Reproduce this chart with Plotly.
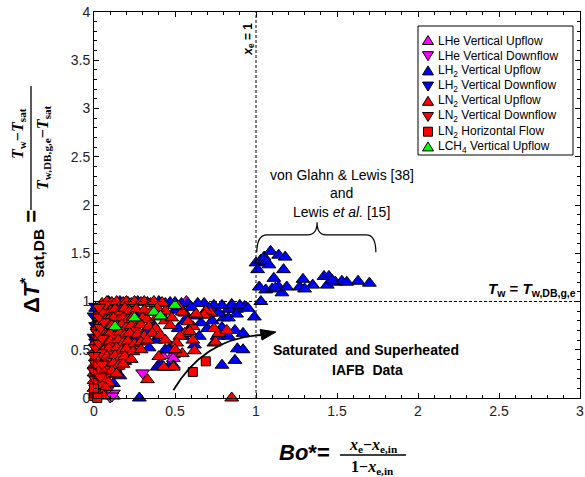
import plotly.graph_objects as go

# ---------------- data ----------------
lhe_up_x = [0.49, 0.49, 0.47, 0.42, 0.57, 0.12]
lhe_up_y = [0.45, 0.41, 0.50, 0.44, 1.00, 0.02]

lhe_dn_x = [0.10, 0.12, 0.08, 0.11, 0.15, 0.13, 0.30]
lhe_dn_y = [0.01, 0.05, 0.08, 0.02, 0.30, 1.00, 0.26]

lh2_up_x = [1.00, 1.03, 1.05, 1.09, 1.06, 1.14, 1.18, 1.01, 1.17, 1.11, 1.02, 1.06, 1.10, 1.14, 1.16,
            1.19, 1.27, 1.29, 1.35, 1.42, 1.45, 1.44, 1.49, 1.53, 1.56, 1.63, 1.70, 1.03, 0.99, 1.08,
            1.12, 1.30, 1.47,
            0.93, 0.88, 0.83, 0.85, 0.79, 0.75, 0.74, 0.68, 0.64, 0.58, 0.54, 0.50, 0.47, 0.69, 0.67,
            0.80, 0.70, 0.65, 0.74, 0.83, 0.88, 0.87, 0.885, 0.92, 0.87, 0.79, 0.92, 0.83, 0.76, 0.79,
            0.73, 0.66, 0.60, 0.55, 0.48, 0.44, 0.40, 0.46, 0.28, 0.62, 0.56, 0.50, 0.60, 0.71, 0.77,
            0.90, 0.95, 0.62, 0.56, 0.52,
            0.01, 0.04, 0.09, 0.16, 0.21, 0.27, 0.33, 0.40, 0.44, 0.26, 0.30, 0.24, 0.39, 0.42, 0.08,
            0.13, 0.16, 0.49, 0.46, 0.02, 0.03, 0.06, 0.11, 0.18, 0.22, 0.36, 0.38, 0.12, 0.07, 0.19,
            0.34, 0.28, 0.14, 0.32, 0.41]
lh2_up_y = [1.40, 1.43, 1.46, 1.52, 1.41, 1.48, 1.46, 1.33, 1.33, 1.24, 1.15, 1.12, 1.13, 1.15, 1.09,
            1.15, 1.15, 1.23, 1.17, 1.26, 1.26, 1.17, 1.20, 1.21, 1.20, 1.21, 1.19, 1.00, 0.84, 1.38,
            1.14, 1.13, 1.22,
            0.95, 0.92, 0.92, 0.97, 0.96, 0.90, 0.96, 0.98, 0.98, 0.98, 0.98, 0.99, 0.99, 0.90, 0.86,
            0.83, 0.72, 0.64, 0.57, 0.83, 0.87, 0.70, 0.51, 0.50, 0.39, 0.34, 0.67, 0.64, 0.64, 0.73,
            0.80, 0.78, 0.74, 0.64, 0.53, 0.50, 0.34, 0.32, 0.00, 0.85, 0.88, 0.91, 0.94, 0.93, 0.88,
            0.96, 0.93, 0.55, 0.80, 0.72,
            0.93, 0.86, 1.00, 1.00, 0.99, 1.00, 0.99, 1.00, 0.98, 0.64, 0.60, 0.50, 0.32, 0.34, 0.36,
            0.30, 0.23, 0.34, 0.50, 0.60, 0.72, 0.52, 0.62, 0.70, 0.82, 0.77, 0.60, 0.15, 0.20, 0.38,
            0.52, 0.88, 0.92, 0.70, 0.88]

lh2_dn_x = [0.01, 0.02, 0.00, 0.03, 0.01, 0.02, 0.00, 0.01, 0.03, 0.05]
lh2_dn_y = [0.95, 0.90, 0.85, 0.80, 0.75, 0.70, 0.63, 0.58, 0.66, 0.86]

ln2_up_x = [0.05, 0.08, 0.11, 0.14, 0.18, 0.20, 0.23, 0.25, 0.29, 0.31, 0.35, 0.37, 0.42,
            0.04, 0.07, 0.10, 0.13, 0.16, 0.19, 0.22, 0.26, 0.31, 0.35, 0.44, 0.39,
            0.03, 0.06, 0.09, 0.12, 0.15, 0.18, 0.21, 0.24, 0.27, 0.30, 0.33, 0.39, 0.44, 0.48,
            0.02, 0.05, 0.08, 0.11, 0.14, 0.17, 0.20, 0.23, 0.26, 0.29, 0.34, 0.38, 0.47,
            0.02, 0.05, 0.08, 0.10, 0.13, 0.16, 0.19, 0.22, 0.27, 0.31, 0.36, 0.41,
            0.01, 0.04, 0.07, 0.10, 0.12, 0.15, 0.18, 0.21, 0.25, 0.29, 0.33,
            0.01, 0.03, 0.06, 0.09, 0.12, 0.14, 0.17, 0.20, 0.24, 0.29,
            0.01, 0.03, 0.05, 0.08, 0.10, 0.13, 0.16, 0.19, 0.23,
            0.00, 0.02, 0.04, 0.07, 0.09, 0.12, 0.15, 0.18,
            0.00, 0.02, 0.04, 0.06, 0.08, 0.11, 0.14,
            0.00, 0.02, 0.04, 0.06, 0.09,
            0.00, 0.02, 0.04, 0.07,
            0.01, 0.03, 0.06,
            0.33, 0.85, 0.545, 0.61, 0.72, 0.69, 0.77, 0.82, 0.75, 0.56, 0.61, 0.545, 0.68, 0.63,
            0.74, 0.59, 0.53, 0.51, 0.44, 0.40, 0.49, 0.43, 0.62, 0.50, 0.58, 0.52]
ln2_up_y = [0.98, 1.00, 0.99, 1.00, 0.99, 1.00, 0.98, 1.00, 0.99, 1.00, 0.98, 1.00, 0.99,
            0.91, 0.93, 0.90, 0.92, 0.89, 0.93, 0.90, 0.92, 0.91, 0.89, 0.90, 0.93,
            0.82, 0.84, 0.81, 0.83, 0.80, 0.83, 0.81, 0.84, 0.80, 0.83, 0.81, 0.84, 0.80, 0.83,
            0.74, 0.76, 0.73, 0.75, 0.72, 0.76, 0.73, 0.75, 0.72, 0.76, 0.74, 0.72, 0.75,
            0.66, 0.68, 0.65, 0.67, 0.64, 0.68, 0.65, 0.67, 0.66, 0.64, 0.67, 0.65,
            0.58, 0.60, 0.57, 0.59, 0.56, 0.60, 0.57, 0.59, 0.56, 0.58, 0.60,
            0.50, 0.52, 0.49, 0.51, 0.48, 0.52, 0.49, 0.51, 0.48, 0.50,
            0.42, 0.44, 0.41, 0.43, 0.40, 0.44, 0.41, 0.43, 0.40,
            0.34, 0.36, 0.33, 0.35, 0.32, 0.36, 0.33, 0.35,
            0.26, 0.28, 0.25, 0.27, 0.24, 0.28, 0.25,
            0.18, 0.20, 0.17, 0.19, 0.16,
            0.10, 0.12, 0.09, 0.11,
            0.03, 0.05, 0.02,
            0.19, 0.00, 0.89, 0.74, 0.88, 0.90, 0.67, 0.70, 0.58, 0.67, 0.60, 0.46, 0.86, 0.87,
            0.72, 0.69, 0.64, 0.57, 0.60, 0.43, 0.32, 0.32, 0.49, 0.50, 0.79, 0.95]

ln2_dn_x = [0.01, 0.02, 0.01, 0.03, 0.01, 0.02, 0.00, 0.03, 0.01, 0.02, 0.04, 0.01, 0.03, 0.05,
            0.02, 0.04, 0.06, 0.03, 0.05, 0.07, 0.03, 0.00, 0.04, 0.05]
ln2_dn_y = [0.02, 0.06, 0.10, 0.14, 0.19, 0.24, 0.28, 0.31, 0.36, 0.42, 0.47, 0.52, 0.57, 0.62,
            0.68, 0.73, 0.79, 0.84, 0.90, 0.97, 0.94, 0.44, 0.22, 0.35]

ln2_hz_x = [0.69, 0.61, 0.00, 0.01, 0.02, 0.00]
ln2_hz_y = [0.38, 0.27, 0.02, 0.05, 0.00, 0.10]

lch4_up_x = [0.13, 0.25, 0.37, 0.41, 0.50]
lch4_up_y = [0.74, 0.83, 0.89, 0.85, 0.96]

series_names = ["LHe Vertical Upflow", "LHe Vertical Downflow", "LH<sub>2</sub> Vertical Upflow",
                "LH<sub>2</sub> Vertical Downflow", "LN<sub>2</sub> Vertical Upflow",
                "LN<sub>2</sub> Vertical Downflow", "LN<sub>2</sub> Horizontal Flow",
                "LCH<sub>4</sub> Vertical Upflow"]
series_x = [lhe_up_x, lhe_dn_x, lh2_up_x, lh2_dn_x, ln2_up_x, ln2_dn_x, ln2_hz_x, lch4_up_x]
series_y = [lhe_up_y, lhe_dn_y, lh2_up_y, lh2_dn_y, ln2_up_y, ln2_dn_y, ln2_hz_y, lch4_up_y]
series_sym = ["triangle-up", "triangle-down", "triangle-up", "triangle-down", "triangle-up",
              "triangle-down", "square", "triangle-up"]
series_col = ["#ff00ff", "#ff00ff", "#0000ff", "#0000ff", "#ff0000", "#ff0000", "#ff0000", "#00ff00"]

x_ticks = [0, 0.5, 1, 1.5, 2, 2.5, 3]
y_ticks = [0, 0.5, 1, 1.5, 2, 2.5, 3, 3.5, 4]

# ---------------- figure ----------------
fig = go.Figure()
for nm, xs, ys, sym, col in zip(series_names, series_x, series_y, series_sym, series_col):
    fig.add_trace(go.Scatter(
        x=xs, y=ys, mode="markers", name=nm, showlegend=False,
        marker=dict(symbol=sym, color=col, size=12 if sym != "square" else 9,
                    line=dict(color="black", width=1)),
        cliponaxis=False))

W, H = 585, 477
L, R, T, B = 94, 5, 12, 79
pw, ph = W - L - R, H - T - B


def px(xp):
    return (xp - L) / pw


def py(yp):
    return (H - B - yp) / ph


SANS = "Liberation Sans, Arial, Helvetica, sans-serif"
SERIF = "Liberation Serif, DejaVu Serif, serif"

axis_common = dict(showline=True, linecolor="black", linewidth=1, mirror="allticks",
                   ticks="inside", ticklen=5, tickcolor="black", showgrid=False, zeroline=False,
                   automargin=False,
                   tickfont=dict(family=SANS, size=14, color="#222"),
                   minor=dict(ticks="inside", ticklen=3, tickcolor="black", dtick=0.1, showgrid=False))

fig.update_xaxes(range=[0, 3], tickvals=x_ticks, ticktext=[f"{v:g}" for v in x_ticks], **axis_common)
fig.update_yaxes(range=[0, 4], tickvals=y_ticks, ticktext=[f"{v:g}" for v in y_ticks], **axis_common)

shapes = [
    dict(type="line", xref="x", yref="y", x0=1, x1=1, y0=0, y1=4,
         line=dict(color="black", width=1, dash="3px,2px")),
    dict(type="line", xref="x", yref="y", x0=0, x1=3, y0=1, y1=1,
         line=dict(color="black", width=1, dash="3px,2px")),
    # brace
    dict(type="path", xref="x", yref="y",
         path="M 1.005,1.51 Q 1.005,1.69 1.07,1.69 L 1.32,1.69 Q 1.377,1.69 1.377,1.82 "
              "Q 1.377,1.69 1.43,1.69 L 1.68,1.69 Q 1.74,1.69 1.74,1.51",
         line=dict(color="black", width=1.2)),
    # curved arrow
    dict(type="path", xref="x", yref="y",
         path="M 0.49,0.08 Q 0.68,0.62 1.031,0.653",
         line=dict(color="black", width=1.8)),
    dict(type="path", xref="x", yref="y",
         path="M 1.123,0.684 L 1.025,0.71 L 1.037,0.60 Z",
         fillcolor="black", line=dict(color="black", width=1)),
    # fraction bars of axis titles
    dict(type="line", xref="paper", yref="paper", x0=px(31), x1=px(31), y0=py(86), y1=py(210),
         line=dict(color="black", width=1.3)),
    dict(type="line", xref="paper", yref="paper", x0=px(340), x1=px(406), y0=py(455), y1=py(455),
         line=dict(color="black", width=1.3)),
    # legend box
    dict(type="rect", xref="paper", yref="paper", x0=px(418), x1=px(573), y0=py(26), y1=py(155),
         fillcolor="white", line=dict(color="black", width=1), layer="above"),
]

annotations = [
    dict(x=1.53, y=2.31, xref="x", yref="y", text="von Glahn &amp; Lewis [38]", showarrow=False,
         font=dict(family=SANS, size=14, color="black")),
    dict(x=1.53, y=2.12, xref="x", yref="y", text="and", showarrow=False,
         font=dict(family=SANS, size=14, color="black")),
    dict(x=1.53, y=1.93, xref="x", yref="y", text="Lewis <i>et al.</i> [15]", showarrow=False,
         font=dict(family=SANS, size=14, color="black")),
    dict(x=1.68, y=0.50, xref="x", yref="y", text="<b>Saturated  and Superheated</b>", showarrow=False,
         font=dict(family=SANS, size=14, color="black")),
    dict(x=1.69, y=0.29, xref="x", yref="y", text="<b>IAFB  Data</b>", showarrow=False,
         font=dict(family=SANS, size=14, color="black")),
    dict(x=0.955, y=3.72, xref="x", yref="y", text="<b><i>x</i><sub>e</sub> = 1</b>", showarrow=False,
         textangle=-90, font=dict(family=SANS, size=12, color="black")),
    dict(x=2.99, y=1.0, xref="x", yref="y", xanchor="right", yanchor="bottom", yshift=1,
         text="<b><i>T</i><sub>w</sub> = <i>T</i><sub>w,DB,g,e</sub></b>", showarrow=False,
         font=dict(family=SANS, size=15, color="black")),
    # y title
    dict(x=px(31), y=py(262), xref="paper", yref="paper", showarrow=False, textangle=-90,
         xanchor="center", yanchor="middle",
         text="<b>Δ<i>T</i><sup>*</sup><sub>sat,DB</sub> =</b>",
         font=dict(family=SANS, size=22, color="black")),
    dict(x=px(18), y=py(134), xref="paper", yref="paper", showarrow=False, textangle=-90,
         xanchor="center", yanchor="middle",
         text="<b><i>T</i><sub>w</sub>−<i>T</i><sub>sat</sub></b>",
         font=dict(family=SERIF, size=16, color="black")),
    dict(x=px(43), y=py(148), xref="paper", yref="paper", showarrow=False, textangle=-90,
         xanchor="center", yanchor="middle",
         text="<b><i>T</i><sub>w,DB,g,e</sub>−<i>T</i><sub>sat</sub></b>",
         font=dict(family=SERIF, size=16, color="black")),
    # x title
    dict(x=px(304), y=py(452), xref="paper", yref="paper", showarrow=False,
         xanchor="center", yanchor="middle",
         text="<b><i>Bo</i>*=</b>", font=dict(family=SANS, size=22, color="black")),
    dict(x=px(373), y=py(445), xref="paper", yref="paper", showarrow=False,
         xanchor="center", yanchor="middle",
         text="<b><i>x</i><sub>e</sub>−<i>x</i><sub>e,in</sub></b>",
         font=dict(family=SERIF, size=16, color="black")),
    dict(x=px(372), y=py(467), xref="paper", yref="paper", showarrow=False,
         xanchor="center", yanchor="middle",
         text="<b>1−<i>x</i><sub>e,in</sub></b>",
         font=dict(family=SERIF, size=16, color="black")),
]

# legend entries (drawn as symbol shapes + text)
row0, drow = 40.5, 15.2
sx = 428
for i, (nm, sym, col) in enumerate(zip(series_names, series_sym, series_col)):
    cy = row0 + i * drow
    if sym == "triangle-up":
        path = f"M {px(sx)},{py(cy - 5)} L {px(sx + 5.5)},{py(cy + 4)} L {px(sx - 5.5)},{py(cy + 4)} Z"
    elif sym == "triangle-down":
        path = f"M {px(sx)},{py(cy + 5)} L {px(sx + 5.5)},{py(cy - 4)} L {px(sx - 5.5)},{py(cy - 4)} Z"
    else:
        path = (f"M {px(sx - 4.5)},{py(cy - 4.5)} L {px(sx + 4.5)},{py(cy - 4.5)} "
                f"L {px(sx + 4.5)},{py(cy + 4.5)} L {px(sx - 4.5)},{py(cy + 4.5)} Z")
    shapes.append(dict(type="path", xref="paper", yref="paper", path=path, fillcolor=col,
                       line=dict(color="black", width=1), layer="above"))
    annotations.append(dict(x=px(436), y=py(cy), xref="paper", yref="paper", showarrow=False,
                            xanchor="left", yanchor="middle", text=nm,
                            font=dict(family=SANS, size=12, color="black")))

fig.update_layout(
    width=W, height=H, margin=dict(l=L, r=R, t=T, b=B, pad=0),
    paper_bgcolor="white", plot_bgcolor="white",
    shapes=shapes, annotations=annotations, showlegend=False,
)

fig.write_html("out.html")
